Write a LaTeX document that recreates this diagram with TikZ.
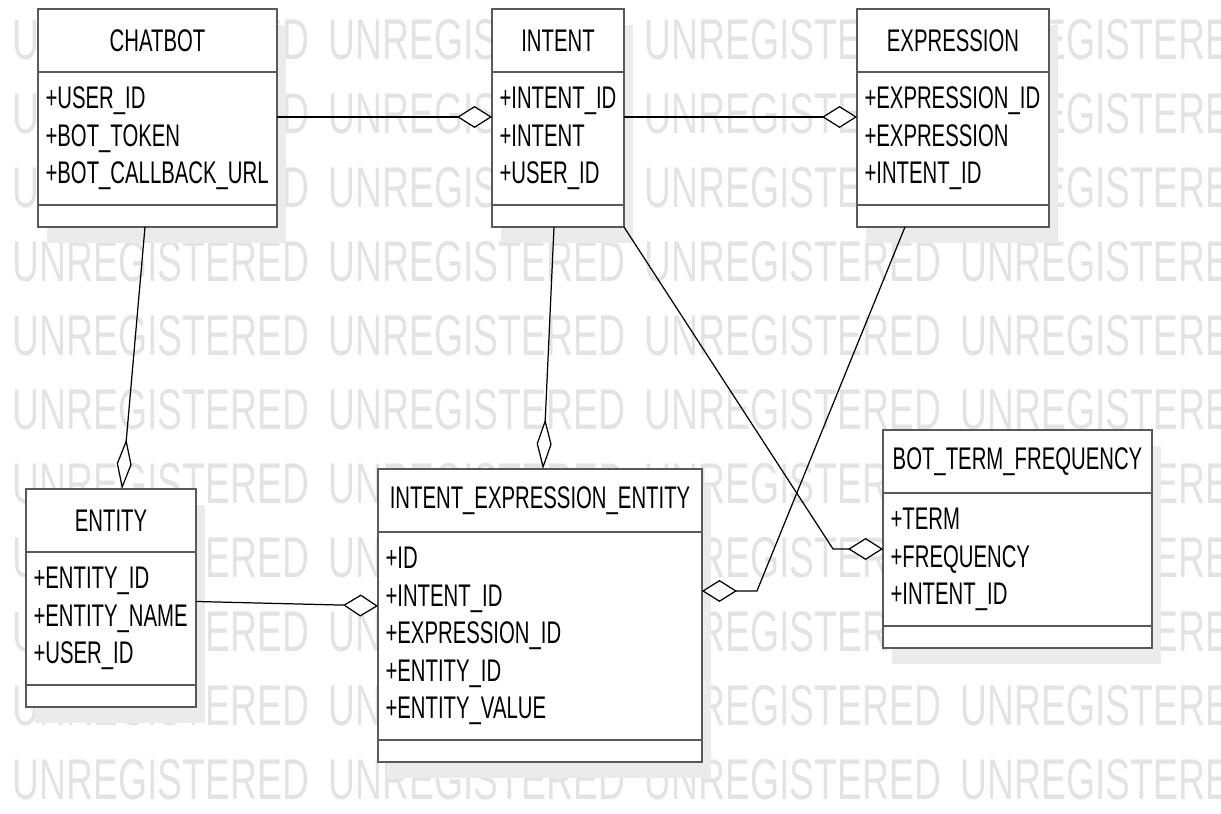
\documentclass[tikz,border=0pt]{standalone}
\usepackage{fontspec}
\newfontfamily\umlfont[FakeStretch=0.65]{Liberation Sans}
\usetikzlibrary{arrows.meta, positioning, calc, shadows}

\begin{document}
\begin{tikzpicture}[
    x=0.02cm, y=-0.02cm,
    classbox/.style={rectangle, draw=black!65, line width=1.6pt, fill=white, inner sep=0pt, outer sep=0pt,
        font=\umlfont\fontsize{17.8}{21.3}\selectfont,
        drop shadow={shadow xshift=0.18cm, shadow yshift=-0.32cm, fill=black!8, opacity=1}},
    clsname/.style={classbox, anchor=north, minimum height=1.26cm},
    attrs/.style={classbox, align=left, inner xsep=0.15cm, minimum height=2.66cm},
    opsbox/.style={classbox, minimum height=0.44cm},
    wmark/.style={anchor=west, inner sep=0pt, text=black!11, font=\umlfont\fontsize{32.7}{32.7}\selectfont},
    agg/.style={-{Diamond[length=7mm, width=4.4mm, fill=white]}, line width=0.7pt},
    aggv/.style={-{Diamond[length=10mm, width=3mm, fill=white]}, line width=0.7pt}
]
    \useasboundingbox (0,0) rectangle (1221,814);

    % watermark rows
    \begin{scope}
        \clip (0,0) rectangle (1221,814);
        \foreach \r in {0,...,10}
            \foreach \c in {0,...,3}
                \node[wmark] (wm-\r-\c) at ({12+316*\c},{40+74*\r}) {UNREGISTERED};
    \end{scope}

    % top row
    \node[clsname, minimum width=4.78cm] (chatbot) at (157.5,9) {CHATBOT};
    \node[attrs, text width=4.48cm, below=0pt of chatbot] (chatbot-attr) {+USER\_ID\\+BOT\_TOKEN\\+BOT\_CALLBACK\_URL};
    \node[opsbox, minimum width=4.78cm, below=0pt of chatbot-attr] (chatbot-ops) {};

    \node[clsname, minimum width=2.64cm] (intent) at (558,9) {INTENT};
    \node[attrs, text width=2.34cm, below=0pt of intent] (intent-attr) {+INTENT\_ID\\+INTENT\\+USER\_ID};
    \node[opsbox, minimum width=2.64cm, below=0pt of intent-attr] (intent-ops) {};

    \node[clsname, minimum width=3.84cm] (expr) at (953,9) {EXPRESSION};
    \node[attrs, text width=3.54cm, below=0pt of expr] (expr-attr) {+EXPRESSION\_ID\\+EXPRESSION\\+INTENT\_ID};
    \node[opsbox, minimum width=3.84cm, below=0pt of expr-attr] (expr-ops) {};

    % bottom row
    \node[clsname, minimum width=3.40cm] (entity) at (111,489) {ENTITY};
    \node[attrs, text width=3.10cm, below=0pt of entity] (entity-attr) {+ENTITY\_ID\\+ENTITY\_NAME\\+USER\_ID};
    \node[opsbox, minimum width=3.40cm, below=0pt of entity-attr] (entity-ops) {};

    \node[clsname, minimum width=6.48cm] (iee) at (540,469) {INTENT\_EXPRESSION\_ENTITY};
    \node[attrs, text width=6.18cm, minimum height=4.16cm, below=0pt of iee] (iee-attr)
        {+ID\\+INTENT\_ID\\+EXPRESSION\_ID\\+ENTITY\_ID\\+ENTITY\_VALUE};
    \node[opsbox, minimum width=6.48cm, below=0pt of iee-attr] (iee-ops) {};

    \node[clsname, minimum width=5.38cm] (btf) at (1017.5,430) {BOT\_TERM\_FREQUENCY};
    \node[attrs, text width=5.08cm, below=0pt of btf] (btf-attr) {+TERM\\+FREQUENCY\\+INTENT\_ID};
    \node[opsbox, minimum width=5.38cm, below=0pt of btf-attr] (btf-ops) {};

    % aggregations
    \draw[agg] ($(chatbot-attr.east)+(0,-21.5)$) -- ($(intent-attr.west)+(0,-21.5)$);
    \draw[agg] ($(intent-attr.east)+(0,-21.5)$) -- ($(expr-attr.west)+(0,-21.5)$);
    \draw[aggv] ($(chatbot-ops.south)+(-12.5,0)$) -- ($(entity.north)+(11,0)$);
    \draw[aggv] ($(intent-ops.south)+(-4,0)$) -- ($(iee.north)+(3,0)$);
    \draw[agg] ($(entity-attr.east)+(0,-17)$) -- ($(iee-attr.west)+(0,-30)$);
    \draw[agg] (intent-ops.south east) -- ($(btf-attr.west)+(-50,-10.5)$) -- ($(btf-attr.west)+(0,-10.5)$);
    \draw[agg] ($(expr-ops.south)+(-48,0)$) -- ($(iee-attr.east)+(55,-45)$) -- ($(iee-attr.east)+(0,-45)$);

\end{tikzpicture}
\end{document}
